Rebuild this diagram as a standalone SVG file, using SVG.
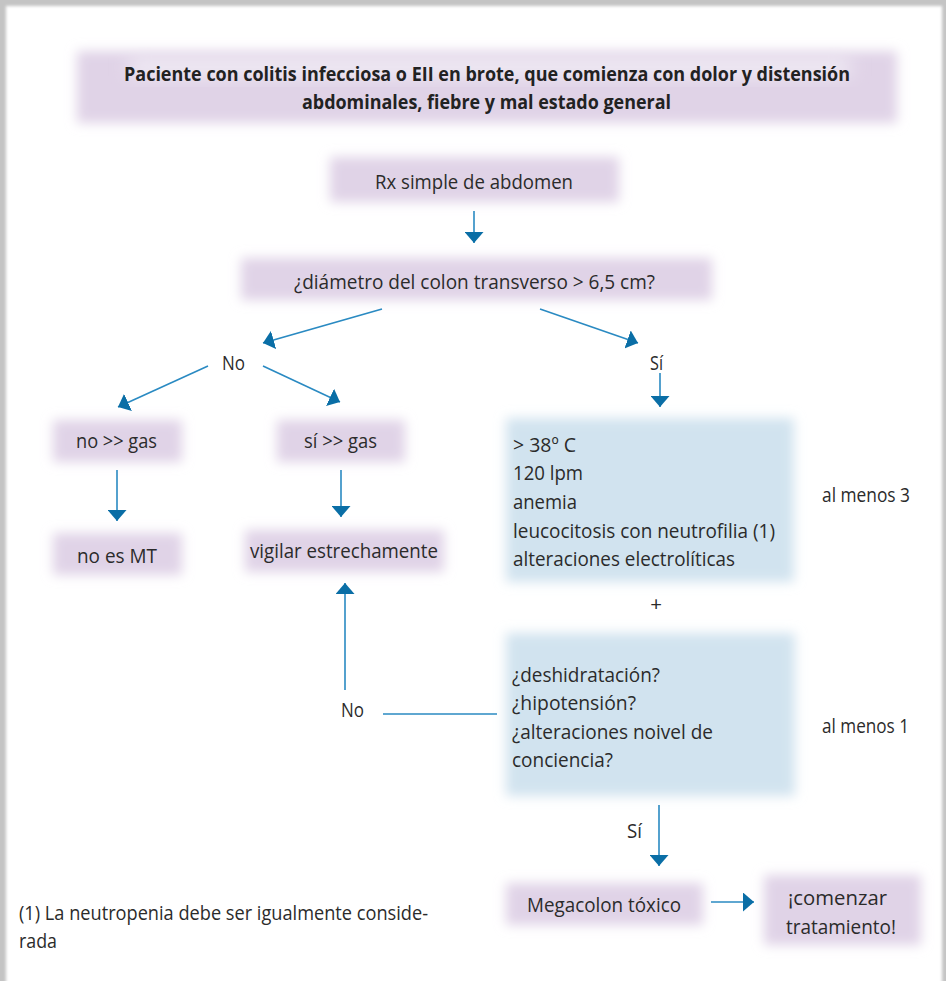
<svg xmlns="http://www.w3.org/2000/svg" width="946" height="981" viewBox="0 0 946 981">
<defs>
<filter id="frame" filterUnits="userSpaceOnUse" x="0" y="0" width="946" height="1000"><feGaussianBlur stdDeviation="1.8"/></filter>
<filter id="soft" x="-25%" y="-50%" width="150%" height="200%"><feGaussianBlur stdDeviation="6"/></filter>
<filter id="glow" x="-30%" y="-60%" width="160%" height="220%"><feGaussianBlur stdDeviation="9"/></filter>
<marker id="ah" markerUnits="userSpaceOnUse" markerWidth="11" markerHeight="19" refX="11" refY="9.5" orient="auto" viewBox="0 0 11 19">
<path d="M0,0 L11,9.5 L0,19 z" fill="#0a6ea6"/>
</marker>
<style>
.lav{fill:#e0d3e7}
.lavc{fill:#f1ecf5}
.blu{fill:#d1e3ef}
text{font-family:"Open Sans","Noto Sans","Liberation Sans",sans-serif;font-size:20.5px;fill:#2b2b2b}
.b{font-weight:bold;font-size:20px;fill:#222}
.con line{stroke:#2a8ac2;stroke-width:1.6;fill:none}
.arr{marker-end:url(#ah)}
</style>
</defs>
<rect width="946" height="981" fill="#c4c4c4"/>
<rect x="6" y="6" width="936" height="1000" fill="#ffffff" filter="url(#frame)"/>

<g id="n-top">
<rect class="lav" x="77" y="51" width="820" height="72" filter="url(#soft)"/>
<rect class="lavc" x="130" y="58" width="720" height="18" filter="url(#glow)"/>
<text class="b" x="124" y="81" textLength="726" lengthAdjust="spacingAndGlyphs">Paciente con colitis infecciosa o EII en brote, que comienza con dolor y distensión</text>
<text class="b" x="302" y="109" textLength="369" lengthAdjust="spacingAndGlyphs">abdominales, fiebre y mal estado general</text>
</g>

<g id="n-rx">
<rect class="lav" x="330" y="157" width="289" height="45" filter="url(#soft)"/>
<text x="375" y="189" textLength="198" lengthAdjust="spacingAndGlyphs">Rx simple de abdomen</text>
</g>

<g id="n-diam">
<rect class="lav" x="241" y="258" width="471" height="42" filter="url(#soft)"/>
<text x="294" y="289" textLength="361" lengthAdjust="spacingAndGlyphs">¿diámetro del colon transverso &gt; 6,5 cm?</text>
</g>

<g id="l-no1"><text x="222" y="370" textLength="23" lengthAdjust="spacingAndGlyphs">No</text></g>
<g id="l-si1"><text x="650" y="370" textLength="13" lengthAdjust="spacingAndGlyphs">Sí</text></g>

<g id="n-nogas">
<rect class="lav" x="53" y="420" width="129" height="42" filter="url(#soft)"/>
<text x="76" y="448" textLength="81" lengthAdjust="spacingAndGlyphs">no &gt;&gt; gas</text>
</g>

<g id="n-sigas">
<rect class="lav" x="277" y="420" width="128" height="42" filter="url(#soft)"/>
<text x="304" y="448" textLength="73" lengthAdjust="spacingAndGlyphs">sí &gt;&gt; gas</text>
</g>

<g id="n-nomt">
<rect class="lav" x="53" y="533" width="129" height="42" filter="url(#soft)"/>
<text x="77" y="563" textLength="80" lengthAdjust="spacingAndGlyphs">no es MT</text>
</g>

<g id="n-vigilar">
<rect class="lav" x="245" y="530" width="199" height="42" filter="url(#soft)"/>
<text x="250" y="558" textLength="188" lengthAdjust="spacingAndGlyphs">vigilar estrechamente</text>
</g>

<g id="n-criteria">
<rect class="blu" x="506" y="418" width="288" height="164" filter="url(#soft)"/>
<text x="513" y="452" textLength="63" lengthAdjust="spacingAndGlyphs">&gt; 38º C</text>
<text x="513" y="480" textLength="70" lengthAdjust="spacingAndGlyphs">120 lpm</text>
<text x="513" y="509" textLength="64" lengthAdjust="spacingAndGlyphs">anemia</text>
<text x="513" y="538" textLength="262" lengthAdjust="spacingAndGlyphs">leucocitosis con neutrofilia (1)</text>
<text x="513" y="566" textLength="222" lengthAdjust="spacingAndGlyphs">alteraciones electrolíticas</text>
</g>
<g id="l-menos3"><text x="822" y="502" textLength="88" lengthAdjust="spacingAndGlyphs">al menos 3</text></g>
<g id="l-plus"><text x="656" y="611" text-anchor="middle">+</text></g>

<g id="n-shock">
<rect class="blu" x="506" y="633" width="289" height="163" filter="url(#soft)"/>
<text x="512" y="682" textLength="148" lengthAdjust="spacingAndGlyphs">¿deshidratación?</text>
<text x="512" y="710" textLength="124" lengthAdjust="spacingAndGlyphs">¿hipotensión?</text>
<text x="512" y="739" textLength="201" lengthAdjust="spacingAndGlyphs">¿alteraciones noivel de</text>
<text x="512" y="767" textLength="101" lengthAdjust="spacingAndGlyphs">conciencia?</text>
</g>
<g id="l-menos1"><text x="822" y="733" textLength="87" lengthAdjust="spacingAndGlyphs">al menos 1</text></g>
<g id="l-no2"><text x="341" y="717" textLength="23" lengthAdjust="spacingAndGlyphs">No</text></g>
<g id="l-si2"><text x="627" y="838" textLength="15" lengthAdjust="spacingAndGlyphs">Sí</text></g>

<g id="n-megacolon">
<rect class="lav" x="506" y="883" width="197" height="42" filter="url(#soft)"/>
<text x="527" y="912" textLength="154" lengthAdjust="spacingAndGlyphs">Megacolon tóxico</text>
</g>

<g id="n-tratamiento">
<rect class="lav" x="764" y="875" width="157" height="70" filter="url(#soft)"/>
<text x="788" y="905" textLength="99" lengthAdjust="spacingAndGlyphs">¡comenzar</text>
<text x="786" y="934" textLength="110" lengthAdjust="spacingAndGlyphs">tratamiento!</text>
</g>

<g id="footnote">
<text x="19" y="920" textLength="409" lengthAdjust="spacingAndGlyphs">(1) La neutropenia debe ser igualmente conside-</text>
<text x="19" y="948" textLength="38" lengthAdjust="spacingAndGlyphs">rada</text>
</g>

<g id="connectors" class="con">
<line class="arr" x1="474" y1="211" x2="474" y2="243"/>
<line class="arr" x1="382" y1="309" x2="263" y2="343"/>
<line class="arr" x1="540" y1="309" x2="638" y2="343"/>
<line class="arr" x1="660" y1="373" x2="660" y2="407"/>
<line class="arr" x1="208" y1="366" x2="118" y2="407"/>
<line class="arr" x1="263" y1="366" x2="340" y2="402"/>
<line class="arr" x1="117" y1="470" x2="117" y2="521"/>
<line class="arr" x1="341" y1="470" x2="341" y2="517"/>
<line x1="497" y1="714" x2="383" y2="714"/>
<line class="arr" x1="345" y1="690" x2="345" y2="583"/>
<line class="arr" x1="659" y1="805" x2="659" y2="866"/>
<line class="arr" x1="711" y1="902" x2="754" y2="902"/>
</g>
</svg>
